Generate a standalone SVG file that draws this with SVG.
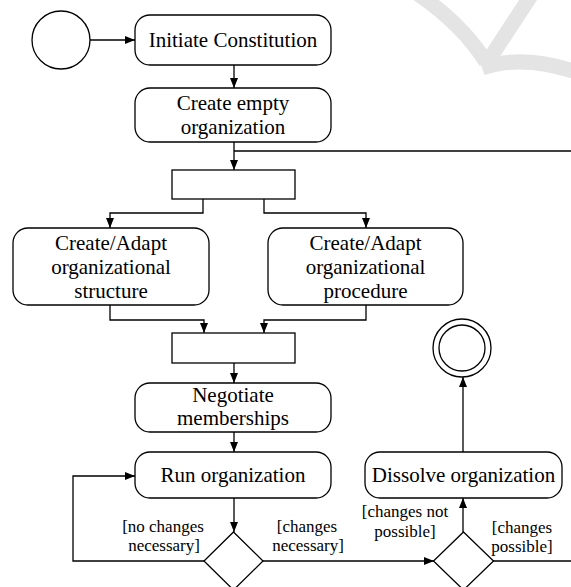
<svg xmlns="http://www.w3.org/2000/svg" width="571" height="587" viewBox="0 0 571 587" font-family="'Liberation Serif', 'DejaVu Serif', serif">
  <style>
    .shape { fill: #fff; stroke: #000; stroke-width: 1.3; }
    .edge { fill: none; stroke: #000; stroke-width: 1.3; }
    .arr { marker-end: url(#arrow); }
    text { font-family: 'Liberation Serif', 'DejaVu Serif', serif; fill: #000; text-anchor: middle; }
    .label { font-size: 21px; }
    .guard { font-size: 17px; }
    .mark { fill: none; stroke: #e4e4e4; stroke-width: 15; }
  </style>
  <defs>
    <marker id="arrow" viewBox="0 0 10 8" refX="10" refY="4" markerWidth="10" markerHeight="8" markerUnits="userSpaceOnUse" orient="auto">
      <path d="M0,0 L10,4 L0,8 Z" fill="#000"/>
    </marker>
  </defs>

  <rect width="571" height="587" fill="#fff"/>

  <!-- faint logo mark, top right -->
  <g id="logo-mark">
    <path class="mark" d="M418,-6 Q462,24 486,62"/>
    <path class="mark" d="M532,-6 L490,58"/>
    <path class="mark" d="M482,68 Q522,54 576,72"/>
  </g>

  <!-- connectors -->
  <g id="connectors">
    <path class="edge arr" d="M90,40 H135"/>
    <path class="edge arr" d="M234,65 V88"/>
    <path class="edge arr" d="M234,142 V170"/>
    <path class="edge" d="M234,151 H571"/>
    <path class="edge arr" d="M203,199 V213 H110 V228"/>
    <path class="edge arr" d="M264,199 V213 H366 V228"/>
    <path class="edge arr" d="M110,305 V320 H204 V333"/>
    <path class="edge arr" d="M366,305 V320 H264 V333"/>
    <path class="edge arr" d="M234,363 V383"/>
    <path class="edge arr" d="M234,432 V452"/>
    <path class="edge arr" d="M234,498 V532"/>
    <path class="edge arr" d="M204,561 H73 V476 H135"/>
    <path class="edge arr" d="M263,561 H434"/>
    <path class="edge" d="M493,561 H571"/>
    <path class="edge arr" d="M463,532 V498"/>
    <path class="edge arr" d="M463,452 V377"/>
  </g>

  <!-- guard labels -->
  <g id="guards" font-family="'Liberation Serif', serif" font-size="17">
    <text class="guard" x="163" y="532">[no changes</text>
    <text class="guard" x="164" y="551">necessary]</text>
    <text class="guard" x="307" y="532">[changes</text>
    <text class="guard" x="308" y="551">necessary]</text>
    <text class="guard" x="405" y="517">[changes not</text>
    <text class="guard" x="405" y="537">possible]</text>
    <text class="guard" x="522" y="533">[changes</text>
    <text class="guard" x="522" y="552">possible]</text>
  </g>

  <g id="start">
    <circle class="shape" cx="61" cy="40" r="29"/>
  </g>

  <g id="initiate-constitution">
    <rect class="shape" x="135" y="15" width="196" height="50" rx="15"/>
    <text class="label" x="233" y="47">Initiate Constitution</text>
  </g>

  <g id="create-empty-organization">
    <rect class="shape" x="135" y="88" width="196" height="54" rx="15"/>
    <text class="label" x="233" y="110">Create empty</text>
    <text class="label" x="233" y="134">organization</text>
  </g>

  <g id="fork">
    <rect class="shape" x="172" y="170" width="123" height="29"/>
  </g>

  <g id="adapt-structure">
    <rect class="shape" x="13" y="228" width="196" height="77" rx="15"/>
    <text class="label" x="111" y="250">Create/Adapt</text>
    <text class="label" x="111" y="274">organizational</text>
    <text class="label" x="111" y="298">structure</text>
  </g>

  <g id="adapt-procedure">
    <rect class="shape" x="268" y="228" width="195" height="77" rx="15"/>
    <text class="label" x="365.5" y="250">Create/Adapt</text>
    <text class="label" x="365.5" y="274">organizational</text>
    <text class="label" x="365.5" y="298">procedure</text>
  </g>

  <g id="join">
    <rect class="shape" x="172" y="333" width="123" height="30"/>
  </g>

  <g id="negotiate-memberships">
    <rect class="shape" x="135" y="383" width="196" height="49" rx="15"/>
    <text class="label" x="233" y="402">Negotiate</text>
    <text class="label" x="233" y="425">memberships</text>
  </g>

  <g id="run-organization">
    <rect class="shape" x="135" y="452" width="196" height="46" rx="15"/>
    <text class="label" x="233" y="482">Run organization</text>
  </g>

  <g id="decision-changes">
    <path class="shape" d="M233.5,532 L263,561 L233.5,590 L204,561 Z"/>
  </g>

  <g id="decision-possible">
    <path class="shape" d="M463.5,532 L493.5,561 L463.5,590 L433.5,561 Z"/>
  </g>

  <g id="dissolve-organization">
    <rect class="shape" x="365" y="452" width="197" height="46" rx="15"/>
    <text class="label" x="463.5" y="482">Dissolve organization</text>
  </g>

  <g id="end">
    <circle class="shape" cx="462" cy="348" r="29"/>
    <circle class="shape" cx="462" cy="348" r="23"/>
  </g>
</svg>
